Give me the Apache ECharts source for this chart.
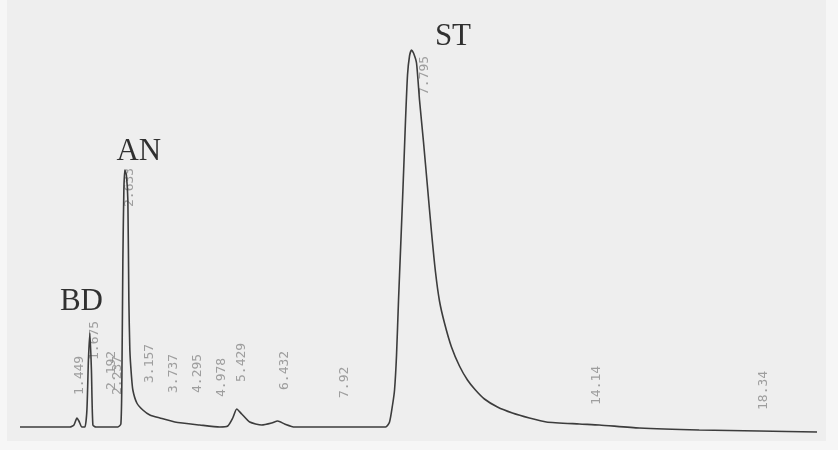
<!DOCTYPE html>
<html>
<head>
<meta charset="utf-8">
<script src="https://cdn.jsdelivr.net/npm/echarts@6/dist/echarts.min.js"></script>
<style>html,body{margin:0;padding:0;background:#eeeeee;}#c{width:838px;height:450px;}</style>
</head>
<body>
<div id="c"></div>
<script>
// Chromatogram trace: chart time (min, along paper) and detector signal (arbitrary units)
const traceTime = [-0.275,0.975,1.075,1.15,1.2,1.275,1.35,1.4,1.438,1.475,1.513,1.55,1.625,2.175,2.25,2.275,2.3,2.325,2.35,2.388,2.425,2.45,2.475,2.513,2.55,2.65,2.8,2.975,3.225,3.6,4.225,4.725,4.925,5.05,5.15,5.275,5.475,5.775,6.025,6.175,6.35,6.6,8.875,8.975,9.05,9.1,9.15,9.2,9.25,9.3,9.338,9.375,9.425,9.475,9.525,9.575,9.65,9.725,9.825,9.925,10.025,10.125,10.225,10.35,10.525,10.725,10.925,11.125,11.35,11.675,12.05,12.475,12.9,13.725,14.225,15.225,16.725,18.225,19.675];
const traceSignal = [0,0,2,9,6,0,0,17,67,94,57,2,0,0,3,47,167,237,257,252,227,127,77,52,37,24,17,12,9,5,2,0,1,9,18,13,5,2,4,6,3,0,0,5,22,37,72,127,177,227,267,307,352,371,377,374,364,327,285,240,195,155,126,104,80,61,47,37,28,20,14,9,5,3,2,-1,-3,-4,-5];

// Retention-time annotations printed by the integrator
const rtLabels = ["1.449","1.675","2.192","2.237","2.633","3.157","3.737","4.295","4.978","5.429","6.432","7.92","7.795","14.14","18.34"];
const rtLabelTime = [1.225,1.6,2.025,2.175,2.475,2.975,3.575,4.175,4.775,5.275,6.35,7.85,9.85,14.15,18.35];
const rtLabelSignal = [32,67,37,32,220,44,34,34,30,45,37,29,332,22,17];

// Compound names
const peakNames = ["BD","AN","ST"];
const peakNameTime = [1.2625,2.7,10.5625];
const peakNameSignal = [140.5,290.5,405.5];

const chart = echarts.init(document.getElementById('c'), null, {renderer:'canvas'});
const option = {
  backgroundColor: '#eeeeee',
  animation: false,
  grid: {left: 11, right: 0, top: 0, bottom: 0},
  xAxis: {type: 'value', min: -0.5, max: 20.2, show: false},
  yAxis: {type: 'value', min: -23, max: 427, show: false},
  graphic: [
    {type:'rect', shape:{x:0,y:0,width:7,height:450}, style:{fill:'#f6f6f6'}, z:0},
    {type:'rect', shape:{x:0,y:441,width:838,height:9}, style:{fill:'#f6f6f6'}, z:0},
    {type:'rect', shape:{x:826,y:0,width:12,height:450}, style:{fill:'#f6f6f6'}, z:0},
    {type:'rect', shape:{x:50,y:312,width:60,height:9}, style:{fill:'#eeeeee'}, z:100}
  ],
  series: [
    {
      type: 'line',
      data: traceTime.map((t, i) => [t, traceSignal[i]]),
      symbol: 'none',
      smooth: 0.2,
      lineStyle: {color: '#3c3c3c', width: 1.6},
      z: 5
    },
    {
      type: 'scatter',
      symbolSize: 0,
      data: rtLabels.map((s, i) => ({name: s, value: [rtLabelTime[i], rtLabelSignal[i]]})),
      label: {
        show: true, formatter: '{b}', position: [0, 0], rotate: 90,
        align: 'left', verticalAlign: 'middle',
        fontFamily: 'DejaVu Sans Mono', fontSize: 13, color: '#8a8a8a'
      },
      z: 3
    },
    {
      type: 'scatter',
      symbolSize: 0,
      data: peakNames.map((s, i) => ({name: s, value: [peakNameTime[i], peakNameSignal[i]]})),
      label: {
        show: true, formatter: '{b}', position: [0, 0],
        align: 'center', verticalAlign: 'top',
        fontFamily: 'Liberation Serif', fontSize: 31, color: '#000000'
      },
      z: 50
    }
  ]
};
chart.setOption(option);
</script>
</body>
</html>
